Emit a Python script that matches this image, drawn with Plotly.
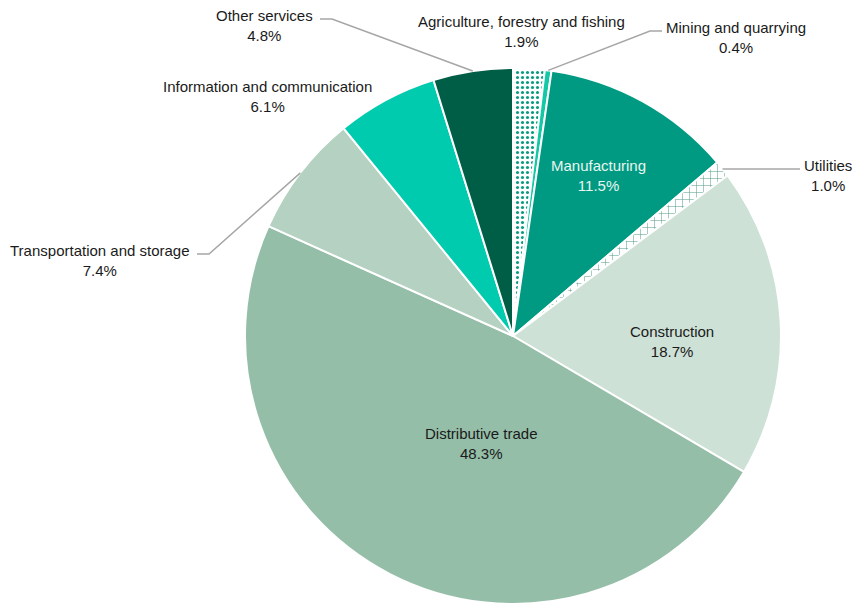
import math
import plotly.graph_objects as go

# Sector shares of enterprises (%), drawn clockwise from 12 o'clock
sectors = [
    "Agriculture, forestry and fishing",
    "Mining and quarrying",
    "Manufacturing",
    "Utilities",
    "Construction",
    "Distributive trade",
    "Transportation and storage",
    "Information and communication",
    "Other services",
]
shares = [1.9, 0.4, 11.5, 1.0, 18.7, 48.3, 7.4, 6.1, 4.8]

colors = ["#ffffff", "#14c7a6", "#009a83", "#ffffff", "#cde1d6",
          "#95bea8", "#b4d1c2", "#00cbae", "#005e47"]
pattern_shapes = [".", "", "", "+", "", "", "", "", ""]
pattern_fg = ["#0a9a80", "#000000", "#000000", "#5a9e8c", "#000000",
              "#000000", "#000000", "#000000", "#000000"]
pattern_size = [5, 6, 6, 7, 6, 6, 6, 6, 6]
pattern_solidity = [0.3, 0.3, 0.3, 0.15, 0.3, 0.3, 0.3, 0.3, 0.3]

W, H = 854, 606
CX, CY, R = 513, 336, 268   # pie centre and radius in pixels

FONT = "Arial Narrow, Liberation Sans Narrow, Liberation Sans, Arial, sans-serif"
TEXT = "#1a1a1a"

fig = go.Figure(go.Pie(
    labels=sectors,
    values=shares,
    sort=False,
    direction="clockwise",
    rotation=0,
    textinfo="none",
    hoverinfo="label+percent",
    marker=dict(
        colors=colors,
        line=dict(color="#ffffff", width=2),
        pattern=dict(shape=pattern_shapes, fgcolor=pattern_fg,
                     size=pattern_size, solidity=pattern_solidity),
    ),
    domain=dict(x=[(CX - R) / W, (CX + R) / W],
                y=[1 - (CY + R) / H, 1 - (CY - R) / H]),
))


def px(x, y):
    return x / W, 1 - y / H


# mid-angle of each slice, measured clockwise from the top
total = sum(shares)
mid_angles = []
acc = 0.0
for v in shares:
    mid_angles.append((acc + v / 2) / total * 2 * math.pi)
    acc += v


def edge_point(i, frac=1.0):
    a = mid_angles[i]
    return CX + R * frac * math.sin(a), CY - R * frac * math.cos(a)


# label placement: (pixel x, pixel y, text colour, leader elbow or None)
label_layout = {
    0: (521, 32, TEXT, None),
    1: (736, 37, TEXT, [(662, 31), (650, 31)]),
    2: (598, 176, "#e8f6f0", None),
    3: (828, 175, TEXT, [(800, 169)]),
    4: (672, 341, TEXT, None),
    5: (482, 443, TEXT, None),
    6: (100, 260, TEXT, [(197, 254), (209, 254)]),
    7: (267, 96, TEXT, None),
    8: (264, 26, TEXT, [(320, 19), (332, 19)]),
}

annotations = []
shapes = []
for i, (lx, ly, col, elbow) in label_layout.items():
    x, y = px(lx, ly)
    annotations.append(dict(
        x=x, y=y, xref="paper", yref="paper",
        text=f"{sectors[i]}<br>{shares[i]:.1f}%",
        showarrow=False, align="center",
        font=dict(family=FONT, size=15, color=col),
        xanchor="center", yanchor="middle",
    ))
    if elbow:
        pts = list(elbow) + [edge_point(i)]
        path = "M " + " L ".join(
            f"{px(a, b)[0]:.5f},{px(a, b)[1]:.5f}" for a, b in pts)
        shapes.append(dict(type="path", path=path, xref="paper", yref="paper",
                           line=dict(color="#a6a6a6", width=1.5)))

fig.update_layout(
    width=W, height=H,
    margin=dict(l=0, r=0, t=0, b=0),
    paper_bgcolor="#ffffff",
    plot_bgcolor="#ffffff",
    showlegend=False,
    annotations=annotations,
    shapes=shapes,
)

fig.write_html("out.html")
